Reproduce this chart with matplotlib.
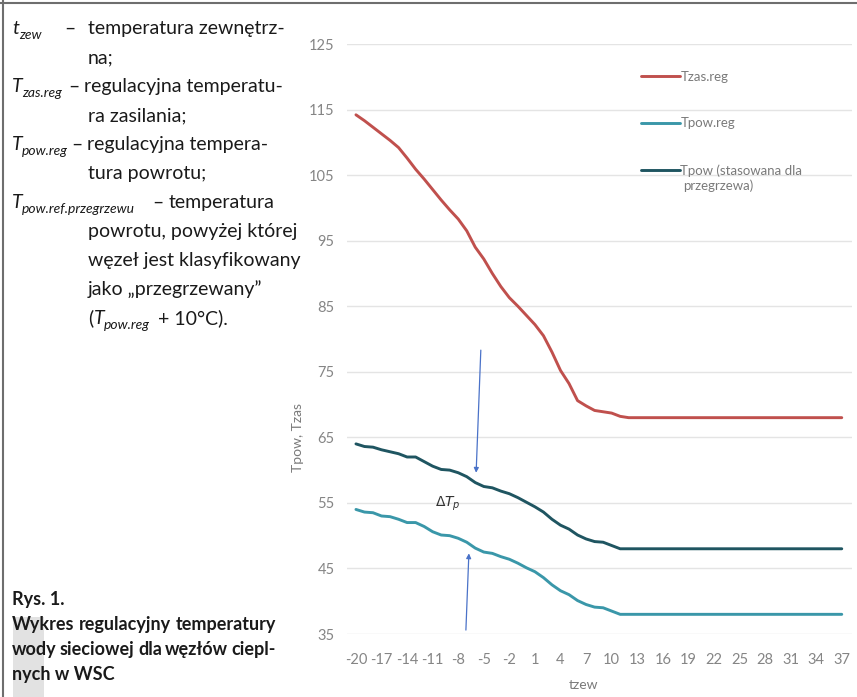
import matplotlib.pyplot as plt
from matplotlib.patches import Rectangle
from matplotlib.lines import Line2D

W, H = 857, 697

# outdoor temperature categories
tzew = list(range(-20, 38))
xticks = list(range(-20, 38, 3))
yticks = [35, 45, 55, 65, 75, 85, 95, 105, 115, 125]

tzas_reg = [114.2, 113.3, 112.3, 111.3, 110.3, 109.2, 107.6, 105.9, 104.4, 102.8,
            101.2, 99.7, 98.3, 96.5, 94.0, 92.2, 90.0, 88.0, 86.3, 85.0,
            83.6, 82.2, 80.5, 78.0, 75.2, 73.2, 70.6, 69.8, 69.1, 68.9,
            68.7, 68.2, 68.0, 68.0, 68.0, 68.0, 68.0, 68.0, 68.0, 68.0,
            68.0, 68.0, 68.0, 68.0, 68.0, 68.0, 68.0, 68.0, 68.0, 68.0,
            68.0, 68.0, 68.0, 68.0, 68.0, 68.0, 68.0, 68.0]
tpow_reg = [54.0, 53.6, 53.5, 53.0, 52.9, 52.5, 52.0, 52.0, 51.4, 50.6,
            50.1, 50.0, 49.6, 49.0, 48.1, 47.5, 47.3, 46.8, 46.4, 45.8,
            45.1, 44.5, 43.6, 42.5, 41.6, 41.0, 40.1, 39.5, 39.1, 39.0,
            38.5, 38.0, 38.0, 38.0, 38.0, 38.0, 38.0, 38.0, 38.0, 38.0,
            38.0, 38.0, 38.0, 38.0, 38.0, 38.0, 38.0, 38.0, 38.0, 38.0,
            38.0, 38.0, 38.0, 38.0, 38.0, 38.0, 38.0, 38.0]
tpow_przegrz = [64.0, 63.6, 63.5, 63.1, 62.8, 62.5, 62.0, 62.0, 61.3, 60.6,
                60.1, 60.0, 59.6, 59.0, 58.1, 57.5, 57.3, 56.8, 56.4, 55.8,
                55.1, 54.4, 53.6, 52.5, 51.6, 51.0, 50.1, 49.5, 49.1, 49.0,
                48.5, 48.0, 48.0, 48.0, 48.0, 48.0, 48.0, 48.0, 48.0, 48.0,
                48.0, 48.0, 48.0, 48.0, 48.0, 48.0, 48.0, 48.0, 48.0, 48.0,
                48.0, 48.0, 48.0, 48.0, 48.0, 48.0, 48.0, 48.0]

series_names = ['Tzas.reg', 'Tpow.reg', 'Tpow (stasowana dla']
colors = ['#c0504d', '#3a97a9', '#1f5561']

# blue arrows (start -> head) in data units
arrow_top = ((-5.35, 78.3), (-5.9, 59.6))
arrow_bot = ((-7.1, 35.6), (-6.75, 47.3))

plt.rcParams['font.family'] = ['Lato', 'DejaVu Sans']
plt.rcParams['axes.unicode_minus'] = False


def px(x, y):
    return x / W, 1 - y / H


fig = plt.figure(figsize=(W / 100, H / 100), dpi=100)

# page frame
fig.add_artist(Line2D([3 / W, 3 / W], [0, 1], color='#6e6e6e', lw=1.5))
fig.add_artist(Line2D([0, 1], [1 - 2.5 / H, 1 - 2.5 / H], color='#6e6e6e', lw=1.5))

ax = fig.add_axes([347 / W, (H - 634) / H, (852 - 347) / W, (634 - 44) / H])
for s in ax.spines.values():
    s.set_visible(False)
ax.set_xlim(-21.05, 38.2)
ax.set_ylim(35, 125)
ax.set_yticks(yticks)
ax.set_xticks(xticks)
ax.grid(axis='y', color='#e4e4e4', lw=1)
ax.set_axisbelow(True)
ax.tick_params(length=0, labelcolor='#858585', labelsize=10.5)
ax.tick_params(axis='x', pad=14)
ax.tick_params(axis='y', pad=9)

for vals, name, c in zip([tzas_reg, tpow_reg, tpow_przegrz], series_names, colors):
    ax.plot(tzew, vals, color=c, lw=2.1, label=name, solid_capstyle='round')

leg = ax.legend(loc='upper left', bbox_to_anchor=(0.582, 0.9546), frameon=False,
                fontsize=9.5, handlelength=3.0, handletextpad=0.0,
                labelspacing=2.63, borderpad=0, borderaxespad=0)
for t in leg.get_texts():
    t.set_color('#7a7a7a')
# second line of the last legend label
fig.text(*px(683, 190), 'przegrzewa)', fontsize=9.5, color='#7a7a7a', va='baseline')

for (x0, y0), (x1, y1) in [arrow_top, arrow_bot]:
    ax.annotate('', xy=(x1, y1), xytext=(x0, y0),
                arrowprops=dict(arrowstyle='-|>', color='#4a72c8', lw=0.9,
                                mutation_scale=7, shrinkA=0, shrinkB=0),
                annotation_clip=False)
ax.text(-10.7, 54.8, r'$\Delta T_{p}$', fontsize=10, color='#333333', va='center')

fig.text(*px(298, 437), 'Tpow, Tzas', rotation=90, ha='center', va='center',
         fontsize=10, color='#7a7a7a')
fig.text(*px(583, 685), 'tzew', ha='center', va='center', fontsize=10, color='#7a7a7a')

# left column text
body = dict(fontsize=14, color='#1a1a1a', va='baseline')
sub = dict(fontsize=10, color='#1a1a1a', va='baseline', style='italic')


def term(x, y, main, subtxt, dx):
    fig.text(*px(x, y), main, style='italic', **body)
    fig.text(*px(x + dx, y + 5), subtxt, **sub)


base = [34, 63, 92, 121, 150, 179, 208, 237, 266, 295, 324]
term(12, base[0], 't', 'zew', 7)
fig.text(*px(64, base[0]), '–', **body)
fig.text(*px(88, base[0]), 'temperatura zewnętrz-', **body)
fig.text(*px(88, base[1]), 'na;', **body)
term(12, base[2], 'T', 'zas.reg', 10)
fig.text(*px(68, base[2]), '–', **body)
fig.text(*px(84, base[2]), 'regulacyjna temperatu-', **body)
fig.text(*px(88, base[3]), 'ra zasilania;', **body)
term(12, base[4], 'T', 'pow.reg', 10)
fig.text(*px(71, base[4]), '–', **body)
fig.text(*px(87, base[4]), 'regulacyjna tempera-', **body)
fig.text(*px(88, base[5]), 'tura powrotu;', **body)
term(12, base[6], 'T', 'pow.ref.przegrzewu', 10)
fig.text(*px(152, base[6]), '–', **body)
fig.text(*px(169, base[6]), 'temperatura', **body)
fig.text(*px(88, base[7]), 'powrotu, powyżej której', **body)
fig.text(*px(88, base[8]), 'węzeł jest klasyfikowany', **body)
fig.text(*px(88, base[9]), 'jako „przegrzewany”', **body)
fig.text(*px(88, base[10]), '(', **body)
term(94, base[10], 'T', 'pow.reg', 10)
fig.text(*px(158, base[10]), '+ 10°C).', **body)

# caption
fig.add_artist(Rectangle(px(13, 697), 31 / W, 80 / H, color='#e2e2e2', lw=0, zorder=0))
cap = dict(fontsize=13, fontweight='bold', color='#1a1a1a', va='baseline')
fig.text(*px(12, 605), 'Rys. 1.', **cap)

renderer = fig.canvas.get_renderer()


def justify(words, x0, x1, y):
    objs = [fig.text(*px(x0, y), w, **cap) for w in words]
    widths = [o.get_window_extent(renderer).width for o in objs]
    gap = (x1 - x0 - sum(widths)) / (len(words) - 1)
    x = x0
    for o, w in zip(objs, widths):
        o.set_position(px(x, y))
        x += w + gap


justify(['Wykres', 'regulacyjny', 'temperatury'], 12, 276, 630)
justify(['wody', 'sieciowej', 'dla', 'węzłów', 'ciepl-'], 12, 276, 655)
fig.text(*px(12, 680), 'nych w WSC', **cap)

fig.savefig('out.png', dpi=100)
